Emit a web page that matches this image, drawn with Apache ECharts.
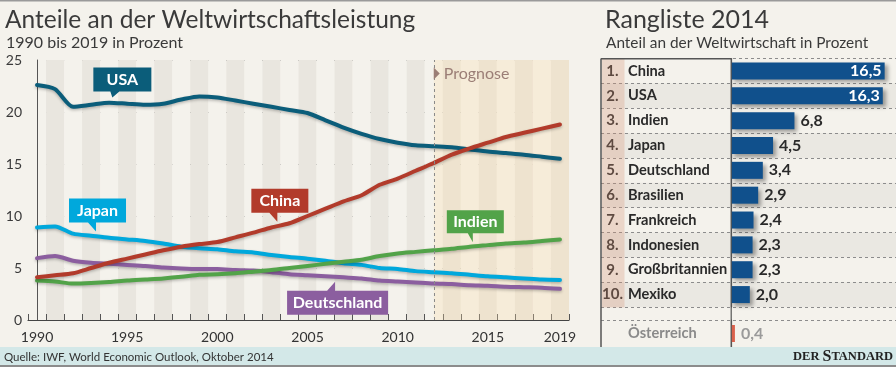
<!DOCTYPE html>
<html><head><meta charset="utf-8">
<script src="https://cdn.jsdelivr.net/npm/echarts@6/dist/echarts.min.js"></script>
<style>html,body{margin:0;padding:0;background:#f4f2ec;}#c{width:896px;height:367px;}</style>
</head><body><div id="c"></div>
<script>
// ---------- data ----------
const years = ['1990','1991','1992','1993','1994','1995','1996','1997','1998','1999','2000','2001','2002','2003','2004','2005','2006','2007','2008','2009','2010','2011','2012','2013','2014','2015','2016','2017','2018','2019'];
const usa     = [22.6,22.2,20.5,20.7,20.9,20.8,20.7,20.8,21.2,21.5,21.4,21.1,20.8,20.5,20.2,19.9,19.2,18.5,17.9,17.4,17.05,16.8,16.7,16.6,16.4,16.2,16.05,15.9,15.7,15.5];
const china   = [4.1,4.3,4.5,5.0,5.5,5.9,6.3,6.7,7.05,7.3,7.5,7.95,8.4,8.9,9.3,10.0,10.7,11.4,12.0,13.0,13.6,14.35,15.1,15.9,16.5,17.05,17.6,18.0,18.4,18.8];
const japan   = [8.9,9.0,8.3,8.1,7.9,7.75,7.6,7.35,7.05,6.9,6.8,6.6,6.5,6.25,6.05,5.9,5.7,5.45,5.3,5.0,4.9,4.7,4.6,4.5,4.35,4.2,4.1,4.0,3.9,3.85];
const germany = [5.95,6.15,5.7,5.5,5.4,5.3,5.2,5.05,4.95,4.9,4.9,4.8,4.75,4.6,4.4,4.3,4.2,4.1,4.0,3.8,3.7,3.6,3.5,3.45,3.35,3.3,3.2,3.15,3.1,3.0];
const india   = [3.8,3.7,3.5,3.55,3.65,3.8,3.9,4.0,4.15,4.35,4.4,4.5,4.65,4.8,5.0,5.2,5.4,5.6,5.8,6.15,6.4,6.55,6.7,6.85,7.05,7.2,7.35,7.45,7.6,7.75];
const labeledYears = ['1990','1995','2000','2005','2010','2015','2019'];
const prognoseStartIndex = 22; // 2012
const rankNames  = ['China','USA','Indien','Japan','Deutschland','Brasilien','Frankreich','Indonesien','Großbritannien','Mexiko'];
const rankValues = [16.5,16.3,6.8,4.5,3.4,2.9,2.4,2.3,2.3,2.0];
const extraNames  = ['Österreich'];
const extraValues = [0.4];

// ---------- layout / style ----------
const F = 'Lato, "Liberation Sans", sans-serif';
const fmt = v => v.toFixed(1).replace('.', ',');
const C = {usa:'#0b5d7a', china:'#b23b2b', japan:'#00a8dc', india:'#52a349', germany:'#8b5e9f'};
const barMin = -14, barMax = 17.72, tLeft = 601, tWidth = 295;
const zeroX = tLeft + (0 - barMin) / (barMax - barMin) * tWidth;
const labelStartX = 603;

function callout(idx, val, text, color, W, H, path, tipX, tipY, shiftX, labelDy) {
  return {
    coord: [idx, val], symbol: 'path://' + path, symbolSize: [W, H],
    symbolOffset: [W / 2 - tipX + shiftX, H / 2 - tipY],
    itemStyle: {color: color},
    label: {show: true, position: 'inside', formatter: text, color: '#fff', fontWeight: 'bold',
            fontSize: 16, fontFamily: F, offset: [0, labelDy]}
  };
}
const lineStyleBase = {width: 4, cap: 'round', join: 'round', shadowColor: 'rgba(0,0,0,0.25)', shadowBlur: 3, shadowOffsetY: 1.5};
function lineSeries(name, data, color, mp) {
  return {
    name, type: 'line', data, xAxisIndex: 0, yAxisIndex: 0, symbol: 'none', smooth: 0.25,
    lineStyle: Object.assign({color}, lineStyleBase), itemStyle: {color},
    markPoint: {silent: true, data: [mp]}
  };
}
const rankRich = (col) => ({
  r: {width: 19, align: 'right', fontWeight: 'bold', fontSize: 15, color: '#2a2a2a', fontFamily: F},
  n: {padding: [0, 0, 0, 6], fontWeight: 'bold', fontSize: 14.6, color: col, fontFamily: F}
});

const option = {
  animation: false,
  backgroundColor: '#f4f2ec',
  textStyle: {fontFamily: F},
  grid: [
    {left: 28, top: 60, width: 541, height: 260, outerBoundsMode: 'none'},
    {left: tLeft, top: 58.5, width: tWidth, height: 248.5, outerBoundsMode: 'none'},
    {left: tLeft, top: 320, width: tWidth, height: 27, outerBoundsMode: 'none'}
  ],
  xAxis: [
    {type: 'category', gridIndex: 0, data: years, boundaryGap: true,
     axisLine: {lineStyle: {color: '#444', width: 1.2}},
     axisTick: {show: true, inside: true, length: 6, interval: 0, lineStyle: {color: '#555'}},
     axisLabel: {interval: (i, v) => labeledYears.indexOf(v) >= 0, fontSize: 14, color: '#333', margin: 10, fontFamily: F},
     splitArea: {show: true, interval: 0, areaStyle: {color: ['#f4f2ec', '#e9e6df']}},
     splitLine: {show: false}},
    {type: 'value', gridIndex: 0, min: -0.5, max: 29.5, show: false},
    {type: 'value', gridIndex: 1, min: barMin, max: barMax, show: false},
    {type: 'value', gridIndex: 2, min: barMin, max: barMax, show: false}
  ],
  yAxis: [
    {type: 'value', gridIndex: 0, min: 0, max: 25, interval: 5,
     axisLine: {show: true, lineStyle: {color: '#555', width: 1}},
     axisTick: {show: false},
     axisLabel: {fontSize: 14, color: '#3a3a3a', margin: 6, fontFamily: F},
     splitLine: {show: true, lineStyle: {color: '#666', type: [3, 3], width: 1}}},
    {type: 'category', gridIndex: 1, data: rankNames, inverse: true, position: 'left', offset: -(zeroX - tLeft),
     axisLine: {show: true, onZero: false, lineStyle: {color: '#555', width: 1.2}},
     axisTick: {show: false},
     axisLabel: {align: 'left', margin: zeroX - labelStartX, interval: 0,
       formatter: (v, i) => '{r|' + (i + 1) + '.}{n|' + v + '}',
       rich: rankRich('#2a2a2a')},
     splitLine: {show: true, interval: 0, lineStyle: {color: '#8c8c8c', type: [3, 3], width: 1}},
     splitArea: {show: true, interval: 0, areaStyle: {color: ['rgba(0,0,0,0)', '#eae8e2']}}},
    {type: 'category', gridIndex: 2, data: extraNames, position: 'left', offset: -(zeroX - tLeft),
     axisLine: {show: true, onZero: false, lineStyle: {color: '#555', width: 1.2}},
     axisTick: {show: false},
     axisLabel: {align: 'left', margin: zeroX - labelStartX,
       formatter: v => '{r| }{n|' + v + '}',
       rich: rankRich('#8a8a8a')},
     splitLine: {show: true, interval: 0, lineStyle: {color: '#8c8c8c', type: [3, 3], width: 1}}}
  ],
  series: [
    {name: 'prognose', type: 'line', xAxisIndex: 1, yAxisIndex: 0, data: [[prognoseStartIndex, 0]],
     symbol: 'none', lineStyle: {opacity: 0}, silent: true,
     markArea: {silent: true, itemStyle: {color: 'rgba(252,222,172,0.3)'},
       data: [[{xAxis: prognoseStartIndex, yAxis: 25}, {xAxis: 29.5, yAxis: 0}]]},
     markLine: {silent: true, symbol: 'none', label: {show: false},
       lineStyle: {color: '#8a8a8a', type: [3, 3], width: 1}, data: [{xAxis: prognoseStartIndex}]},
     markPoint: {silent: true, data: [{coord: [prognoseStartIndex, 23.7], symbol: 'path://M0,0L6,6L0,12Z',
       symbolSize: [6, 12], symbolOffset: [3, 0], itemStyle: {color: '#9b7e76'},
       label: {show: true, position: 'right', distance: 4, formatter: 'Prognose', fontSize: 16, color: '#9b7e76', fontFamily: F}}]}},
    lineSeries('Deutschland', germany, C.germany,
      callout(17, 3.68, 'Deutschland', C.germany, 101, 33, 'M0,9H40L48,0V9H101V33H0Z', 48, 0, -8.5, 4.5)),
    lineSeries('Japan', japan, C.japan,
      callout(3, 8.5, 'Japan', C.japan, 57, 33, 'M0,0H57V24H27V33L19,24H0Z', 27, 33, 4.9, -4.5)),
    lineSeries('Indien', india, C.india,
      callout(24, 7.47, 'Indien', C.india, 57, 32, 'M0,0H57V23H26V32L21,23H0Z', 26, 32, 3, -4.5)),
    lineSeries('USA', usa, C.usa,
      callout(4, 21.4, 'USA', C.usa, 58, 30, 'M0,0H58V24H26L19,30L17,24H0Z', 19, 30, 3.2, -3)),
    lineSeries('China', china, C.china,
      callout(13, 9.45, 'China', C.china, 57, 33, 'M0,0H57V24H26V33L18,24H0Z', 26, 33, 5.9, -4.5)),
    {name: 'Rangliste', type: 'bar', xAxisIndex: 2, yAxisIndex: 1, barWidth: 17,
     itemStyle: {color: '#10508c', shadowColor: 'rgba(0,0,0,0.35)', shadowBlur: 4, shadowOffsetX: 3, shadowOffsetY: 3},
     data: rankValues.map(v => ({value: v, label: v > 10
        ? {show: true, position: 'insideRight', distance: 3, color: '#fff'}
        : {show: true, position: 'right', distance: 6, color: '#2a2a2a'}})),
     label: {show: true, formatter: p => fmt(p.value), fontWeight: 'bold', fontSize: 16, fontFamily: F}},
    {name: 'Österreich', type: 'bar', xAxisIndex: 3, yAxisIndex: 2, barWidth: 17,
     itemStyle: {color: '#d9614c'}, data: extraValues,
     label: {show: true, position: 'right', distance: 6, formatter: p => fmt(p.value), fontWeight: 'bold',
             fontSize: 16, color: '#9a9a9a', fontFamily: F}}
  ],
  graphic: [
    {type: 'rect', shape: {x: 0, y: 0, width: 896, height: 1.5}, style: {fill: '#9a9a9a'}, z: 100},
    {type: 'rect', shape: {x: 0, y: 347, width: 896, height: 18}, style: {fill: '#d3e8e8'}, z: 100},
    {type: 'rect', shape: {x: 0, y: 365, width: 896, height: 2}, style: {fill: '#8c8c8c'}, z: 100},
    {type: 'text', x: 4, y: 357, z: 101, style: {text: 'Quelle: IWF, World Economic Outlook, Oktober 2014', fill: '#333',
      fontSize: 11.5, fontFamily: F, verticalAlign: 'middle'}},
    {type: 'text', x: 893, y: 357, z: 101, style: {text: '{a|DER }{b|S}{a|TANDARD}', align: 'right', verticalAlign: 'middle',
      rich: {a: {fontSize: 12.5, fontWeight: 'bold', fontFamily: '"Liberation Serif", serif', fill: '#222'},
             b: {fontSize: 16, fontWeight: 'bold', fontFamily: '"Liberation Serif", serif', fill: '#222'}}}},
    {type: 'text', x: 5, y: 20, z: 101, style: {text: 'Anteile an der Weltwirtschaftsleistung', fill: '#3a3a3a',
      fontSize: 24.5, fontFamily: F, verticalAlign: 'middle'}},
    {type: 'text', x: 6, y: 42.5, z: 101, style: {text: '1990 bis 2019 in Prozent', fill: '#3a3a3a',
      fontSize: 16, fontFamily: F, verticalAlign: 'middle'}},
    {type: 'text', x: 605, y: 19.5, z: 101, style: {text: 'Rangliste 2014', fill: '#3a3a3a',
      fontSize: 25, fontFamily: F, verticalAlign: 'middle'}},
    {type: 'text', x: 606, y: 43, z: 101, style: {text: 'Anteil an der Weltwirtschaft in Prozent', fill: '#3a3a3a',
      fontSize: 15.4, fontFamily: F, verticalAlign: 'middle'}},
    {type: 'rect', shape: {x: tLeft + 1, y: 59, width: 22.5, height: 248.5}, style: {fill: 'rgba(214,150,118,0.30)'}, z: 50},
    {type: 'line', shape: {x1: tLeft, y1: 58.5, x2: tLeft, y2: 347}, style: {stroke: '#555', lineWidth: 1.5}, z: 60},
    {type: 'line', shape: {x1: tLeft, y1: 58.8, x2: zeroX, y2: 58.8}, style: {stroke: '#555', lineWidth: 1.5}, z: 60},
    {type: 'line', shape: {x1: zeroX, y1: 58.5, x2: zeroX, y2: 347}, style: {stroke: '#555', lineWidth: 1.2}, z: 60}
  ]
};
const chart = echarts.init(document.getElementById('c'));
chart.setOption(option);
</script></body></html>
